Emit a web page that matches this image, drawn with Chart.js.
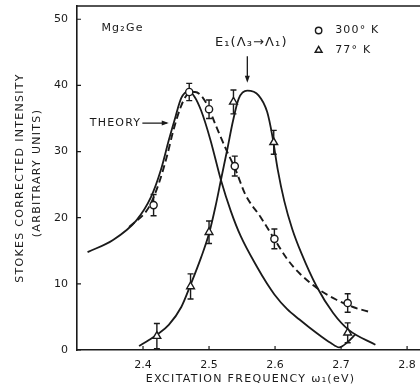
<!DOCTYPE html>
<html>
<head>
<meta charset="utf-8">
<script src="https://cdn.jsdelivr.net/npm/chart.js@4.4.1/dist/chart.umd.min.js"></script>
<style>
  html, body { margin: 0; padding: 0; background: #fff; overflow: hidden; }
  canvas { display: block; }
</style>
</head>
<body>
<canvas id="chart" width="446" height="385"></canvas>
<script>
// tick labels
const xTicks = [2.4, 2.5, 2.6, 2.7, 2.8];
const yTicks = [0, 10, 20, 30, 40, 50];

// measured points, 300 K (circles)
const warmX = [2.416, 2.470, 2.500, 2.539, 2.599, 2.710];
const warmY = [21.9, 39.0, 36.4, 27.8, 16.8, 7.1];
const warmErr = [1.6, 1.3, 1.4, 1.5, 1.5, 1.4];

// measured points, 77 K (triangles)
const coldX = [2.421, 2.472, 2.500, 2.537, 2.598, 2.710];
const coldY = [2.1, 9.6, 17.8, 37.5, 31.4, 2.6];
const coldErr = [1.9, 1.9, 1.7, 1.8, 1.8, 1.5];

// theory curves
const theoryAX = [2.316, 2.354, 2.39, 2.412, 2.427, 2.439, 2.449, 2.458, 2.469, 2.478, 2.488, 2.502, 2.518, 2.533, 2.548, 2.573, 2.588, 2.599, 2.618, 2.637, 2.652, 2.668, 2.684, 2.697, 2.71, 2.722];
const theoryAY = [14.8, 16.6, 19.6, 23.1, 27.2, 31.7, 35.2, 38.1, 39.1, 38.3, 36.2, 31.8, 25.7, 21.0, 17.2, 12.5, 10.0, 8.4, 6.2, 4.6, 3.4, 2.2, 1.1, 0.4, 1.2, 2.4];

const theoryDashX = [2.379, 2.409, 2.424, 2.436, 2.446, 2.457, 2.466, 2.479, 2.496, 2.51, 2.525, 2.54, 2.555, 2.578, 2.6, 2.618, 2.637, 2.667, 2.693, 2.718, 2.745];
const theoryDashY = [18.6, 21.6, 25.2, 29.2, 33.2, 36.7, 38.5, 39.0, 37.3, 34.0, 30.5, 27.3, 23.5, 20.1, 16.6, 13.8, 11.6, 9.1, 7.6, 6.5, 5.7];

const theoryBX = [2.394, 2.409, 2.421, 2.439, 2.458, 2.473, 2.488, 2.5, 2.51, 2.518, 2.528, 2.536, 2.545, 2.558, 2.575, 2.588, 2.596, 2.604, 2.614, 2.626, 2.64, 2.663, 2.688, 2.712, 2.752];
const theoryBY = [0.6, 1.5, 2.3, 3.8, 6.5, 10.1, 14.0, 17.6, 21.8, 25.7, 30.5, 34.5, 38.0, 39.2, 38.5, 36.0, 32.3, 27.3, 22.5, 18.3, 14.6, 9.6, 5.6, 3.0, 0.8];

const ink = '#1a1a1a';
const fontName = "'DejaVu Sans', sans-serif";

function pairs(xs, ys) {
    return xs.map((x, i) => ({ x: x, y: ys[i] }));
}

// error bars, inward ticks, frame, titles and labels
const extras = {
    id: 'extras',
    beforeDatasetsDraw(chart) {
        const ctx = chart.ctx;
        const xs = chart.scales.x, ys = chart.scales.y;
        ctx.save();
        ctx.strokeStyle = ink;
        ctx.lineWidth = 1.4;
        const bars = [[warmX, warmY, warmErr], [coldX, coldY, coldErr]];
        bars.forEach(([bx, by, be]) => {
            bx.forEach((x, i) => {
                const px = xs.getPixelForValue(x);
                const top = ys.getPixelForValue(by[i] + be[i]);
                const bot = ys.getPixelForValue(by[i] - be[i]);
                ctx.beginPath();
                ctx.moveTo(px, top); ctx.lineTo(px, bot);
                ctx.moveTo(px - 3, top); ctx.lineTo(px + 3, top);
                ctx.moveTo(px - 3, bot); ctx.lineTo(px + 3, bot);
                ctx.stroke();
            });
        });
        ctx.restore();
    },
    afterDraw(chart) {
        const ctx = chart.ctx;
        const xs = chart.scales.x, ys = chart.scales.y;
        const area = chart.chartArea;
        const px = v => xs.getPixelForValue(v);
        const py = v => ys.getPixelForValue(v);
        ctx.save();
        ctx.strokeStyle = ink;
        ctx.fillStyle = ink;

        // top border
        ctx.lineWidth = 1.6;
        ctx.beginPath();
        ctx.moveTo(area.left, area.top);
        ctx.lineTo(area.right, area.top);
        ctx.stroke();

        // inward tick marks
        ctx.lineWidth = 1.2;
        ctx.beginPath();
        xTicks.forEach(v => { ctx.moveTo(px(v), area.bottom); ctx.lineTo(px(v), area.bottom - 4); });
        yTicks.forEach(v => { ctx.moveTo(area.left, py(v)); ctx.lineTo(area.left + 4, py(v)); });
        ctx.stroke();

        // axis titles
        ctx.font = '11px ' + fontName;
        ctx.letterSpacing = '1.3px';
        ctx.textAlign = 'center';
        ctx.textBaseline = 'middle';
        const midY = (area.top + area.bottom) / 2;
        ctx.save();
        ctx.translate(20, midY);
        ctx.rotate(-Math.PI / 2);
        ctx.fillText('STOKES CORRECTED INTENSITY', 0, 0);
        ctx.restore();
        ctx.save();
        ctx.translate(37, midY - 5);
        ctx.rotate(-Math.PI / 2);
        ctx.fillText('(ARBITRARY UNITS)', 0, 0);
        ctx.restore();
        ctx.fillText('EXCITATION FREQUENCY \u03c9\u2081(eV)', px(2.563), 379);

        // labels inside the plot
        ctx.textAlign = 'left';
        ctx.letterSpacing = '1.2px';
        ctx.fillText('Mg\u2082Ge', px(2.337), py(48.65));
        ctx.fillText('THEORY', px(2.3194), py(34.3));
        ctx.fillText('300\u00b0 K', px(2.691), py(48.3));
        ctx.fillText('77\u00b0 K', px(2.691), py(45.3));
        ctx.font = '13px ' + fontName;
        ctx.letterSpacing = '1.1px';
        ctx.fillText('E\u2081(\u039b\u2083\u2192\u039b\u2081)', px(2.509), py(46.4));

        // arrows
        ctx.lineWidth = 1.3;
        ctx.beginPath();
        ctx.moveTo(px(2.399), py(34.3)); ctx.lineTo(px(2.436), py(34.3));
        ctx.moveTo(px(2.558), py(44.4)); ctx.lineTo(px(2.558), py(41.0));
        ctx.stroke();
        ctx.beginPath();
        const ax = px(2.439), ay = py(34.3);
        ctx.moveTo(ax, ay); ctx.lineTo(ax - 7, ay - 2.5); ctx.lineTo(ax - 7, ay + 2.5);
        ctx.closePath(); ctx.fill();
        const bx = px(2.558), by = py(40.4);
        ctx.beginPath();
        ctx.moveTo(bx, by); ctx.lineTo(bx - 2.5, by - 7); ctx.lineTo(bx + 2.5, by - 7);
        ctx.closePath(); ctx.fill();

        // legend symbols
        ctx.fillStyle = '#fff';
        ctx.lineWidth = 1.4;
        Chart.helpers.drawPoint(ctx, { pointStyle: 'circle', radius: 3.2, borderWidth: 1.4 }, px(2.666), py(48.3));
        Chart.helpers.drawPoint(ctx, { pointStyle: 'triangle', radius: 4, borderWidth: 1.4 }, px(2.666), py(45.3));
        ctx.restore();
    }
};

const ctx = document.getElementById('chart').getContext('2d');
new Chart(ctx, {
    type: 'scatter',
    data: {
        datasets: [
            {
                label: '300° K',
                data: pairs(warmX, warmY),
                pointStyle: 'circle',
                pointRadius: 3.6,
                pointBorderWidth: 1.4,
                pointBorderColor: ink,
                pointBackgroundColor: '#fff',
                showLine: false,
            },
            {
                label: '77° K',
                data: pairs(coldX, coldY),
                pointStyle: 'triangle',
                pointRadius: 4.5,
                pointBorderWidth: 1.4,
                pointBorderColor: ink,
                pointBackgroundColor: '#fff',
                showLine: false,
            },
            {
                label: 'theory A',
                data: pairs(theoryAX, theoryAY),
                showLine: true,
                borderColor: ink,
                borderWidth: 1.8,
                pointRadius: 0,
                cubicInterpolationMode: 'monotone',
            },
            {
                label: 'theory dashed',
                data: pairs(theoryDashX, theoryDashY),
                showLine: true,
                borderColor: ink,
                borderWidth: 1.9,
                borderDash: [7, 4],
                pointRadius: 0,
                cubicInterpolationMode: 'monotone',
            },
            {
                label: 'theory B',
                data: pairs(theoryBX, theoryBY),
                showLine: true,
                borderColor: ink,
                borderWidth: 1.8,
                pointRadius: 0,
                cubicInterpolationMode: 'monotone',
            },
        ],
    },
    options: {
        responsive: false,
        animation: false,
        layout: { padding: { top: 6, right: 0, left: 0, bottom: 0 } },
        plugins: {
            legend: { display: false },
            tooltip: { enabled: false },
        },
        scales: {
            x: {
                type: 'linear',
                min: 2.3,
                max: 2.85,
                afterBuildTicks: scale => { scale.ticks = xTicks.map(v => ({ value: v })); },
                afterFit: scale => { scale.height = 35; },
                grid: { display: false, drawTicks: false },
                border: { display: true, color: ink, width: 1.6 },
                ticks: {
                    color: ink,
                    font: { family: fontName, size: 11 },
                    padding: 9,
                    maxRotation: 0,
                    callback: v => v.toFixed(1),
                },
            },
            y: {
                type: 'linear',
                min: 0,
                max: 52,
                afterBuildTicks: scale => { scale.ticks = yTicks.map(v => ({ value: v })); },
                afterFit: scale => {
                    scale.width = 77;
                    scale.paddingTop = 0;
                    scale.paddingBottom = 0;
                },
                grid: { display: false, drawTicks: false },
                border: { display: true, color: ink, width: 1.6 },
                ticks: {
                    color: ink,
                    font: { family: fontName, size: 11 },
                    padding: 9,
                },
            },
        },
    },
    plugins: [extras],
});
</script>
</body>
</html>
